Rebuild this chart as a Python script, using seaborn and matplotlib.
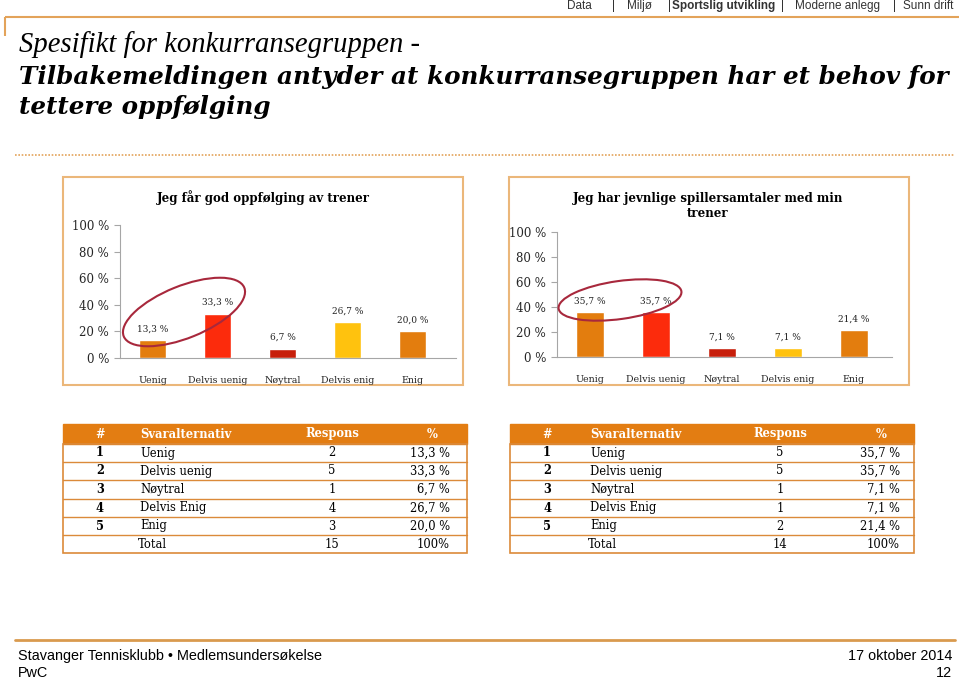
import matplotlib
matplotlib.use("Agg")
import matplotlib.pyplot as plt
import seaborn as sns
from matplotlib.patches import Rectangle, Ellipse

# ---------------- data ----------------
categories = ["Uenig", "Delvis uenig", "Nøytral", "Delvis enig", "Enig"]
table_labels = ["Uenig", "Delvis uenig", "Nøytral", "Delvis Enig", "Enig"]
values_1 = [13.3, 33.3, 6.7, 26.7, 20.0]
values_2 = [35.7, 35.7, 7.1, 7.1, 21.4]
respons_1 = [2, 5, 1, 4, 3]
respons_2 = [5, 5, 1, 1, 2]
total_1 = 15
total_2 = 14
title_1 = "Jeg får god oppfølging av trener"
title_2 = "Jeg har jevnlige spillersamtaler med min\ntrener"
y_ticks = [0, 20, 40, 60, 80, 100]
bar_colors = ["#E37D0E", "#FC2B0C", "#C71F0B", "#FFC20E", "#E37D0E"]

sns.set_theme(style="white")
plt.rcParams["font.family"] = ["DejaVu Serif"]

W, H = 959, 680
fig = plt.figure(figsize=(W / 100, H / 100), dpi=100)
fig.patch.set_facecolor("white")

# background overlay in pixel coordinates
bg = fig.add_axes([0, 0, 1, 1], zorder=0)
bg.set_xlim(0, W)
bg.set_ylim(H, 0)
bg.axis("off")

ORANGE_LINE = "#E3A35A"
BOX = "#EBB77A"
TBL = "#DB8A3A"
HEAD = "#E37D12"
SANS = ["Liberation Sans", "DejaVu Sans"]

# top navigation
nav = [("Data", 567, "normal"), ("|", 612, "normal"), ("Miljø", 627, "normal"),
       ("|", 668, "normal"), ("Sportslig utvikling", 672, "bold"), ("|", 781, "normal"),
       ("Moderne anlegg", 795, "normal"), ("|", 893, "normal"), ("Sunn drift", 903, "normal")]
for txt, x, wt in nav:
    bg.text(x, 6, txt, ha="left", va="center", fontsize=8.5, fontweight=wt,
            family=SANS, color="#333333")

bg.plot([5, 959], [17, 17], color=ORANGE_LINE, lw=1.5, solid_capstyle="butt")
bg.plot([5, 5], [17, 36], color=ORANGE_LINE, lw=1.5, solid_capstyle="butt")

bg.text(19, 45, "Spesifikt for konkurransegruppen -", ha="left", va="center",
        fontsize=20.6, style="italic", family=["Liberation Serif", "DejaVu Serif"], color="black")
bg.text(19, 77, "Tilbakemeldingen antyder at konkurransegruppen har et behov for",
        ha="left", va="center", fontsize=17.7, style="italic", fontweight="bold", color="black")
bg.text(19, 107, "tettere oppfølging", ha="left", va="center", fontsize=17.7,
        style="italic", fontweight="bold", color="black")

bg.plot([15, 955], [155, 155], color=ORANGE_LINE, lw=1.2, linestyle=(0, (1, 1)))

# chart boxes
bg.add_patch(Rectangle((63, 177), 400, 208, fill=False, ec=BOX, lw=1.5))
bg.add_patch(Rectangle((509, 177), 400, 208, fill=False, ec=BOX, lw=1.5))

# footer
bg.plot([15, 955], [640, 640], color="#D99A4E", lw=2)
bg.text(18, 656, "Stavanger Tennisklubb • Medlemsundersøkelse", ha="left", va="center",
        fontsize=10.4, family=SANS, color="black")
bg.text(18, 673, "PwC", ha="left", va="center", fontsize=10.4, family=SANS, color="black")
bg.text(952, 656, "17 oktober 2014", ha="right", va="center", fontsize=10.4, family=SANS, color="black")
bg.text(952, 673, "12", ha="right", va="center", fontsize=10.4, family=SANS, color="black")


def fmt(v):
    return f"{v:.1f}".replace(".", ",") + " %"


def draw_table(x0, x1, col_num, col_lab, col_resp, col_pct_head, col_pct, respons, values, total):
    top, head_bot = 424, 444
    rows = [444, 462, 480, 499, 517, 535, 553]
    bg.add_patch(Rectangle((x0, top), x1 - x0, head_bot - top, fc=HEAD, ec=HEAD, lw=1))
    bg.add_patch(Rectangle((x0, head_bot), x1 - x0, rows[-1] - head_bot, fill=False, ec=TBL, lw=1.2))
    for y in rows[1:-1]:
        bg.plot([x0, x1], [y, y], color=TBL, lw=1)
    hy = (top + head_bot) / 2
    kw = dict(va="center", fontsize=8.3, fontweight="bold", color="white")
    bg.text(col_num, hy, "#", ha="center", **kw)
    bg.text(col_lab, hy, "Svaralternativ", ha="left", **kw)
    bg.text(col_resp, hy, "Respons", ha="center", **kw)
    bg.text(col_pct_head, hy, "%", ha="center", **kw)
    fs = 8.3
    for i in range(5):
        yc = (rows[i] + rows[i + 1]) / 2
        bg.text(col_num, yc, str(i + 1), ha="center", va="center", fontsize=fs, fontweight="bold", color="black")
        bg.text(col_lab, yc, table_labels[i], ha="left", va="center", fontsize=fs, color="black")
        bg.text(col_resp, yc, str(respons[i]), ha="center", va="center", fontsize=fs, color="black")
        bg.text(col_pct, yc, fmt(values[i]), ha="right", va="center", fontsize=fs, color="black")
    yc = (rows[5] + rows[6]) / 2
    bg.text(col_lab - 2, yc, "Total", ha="left", va="center", fontsize=fs, color="black")
    bg.text(col_resp, yc, str(total), ha="center", va="center", fontsize=fs, color="black")
    bg.text(col_pct, yc, "100%", ha="right", va="center", fontsize=fs, color="black")


draw_table(63, 467, 100, 140, 332, 432, 450, respons_1, values_1, total_1)
draw_table(510, 914, 547, 590, 780, 881, 900, respons_2, values_2, total_2)


def px_axes(left, right, bottom0, top100):
    return fig.add_axes([left / W, (H - bottom0) / H, (right - left) / W, (bottom0 - top100) / H], zorder=1)


def draw_chart(ax, values, title, xmax):
    sns.barplot(x=categories, y=values, hue=categories, palette=bar_colors, ax=ax,
                width=0.42, legend=False, saturation=1)
    ax.set_facecolor("none")
    ax.set_ylim(0, 100)
    ax.set_xlim(-0.5, xmax)
    ax.set_yticks(y_ticks)
    ax.set_yticklabels([f"{t} %" for t in y_ticks], fontsize=8.5)
    ax.tick_params(axis="y", left=True, length=4, width=0.8, color="#A6A6A6", pad=4)
    ax.tick_params(axis="x", bottom=False, pad=7, labelsize=6.8)
    ax.set_xlabel("")
    ax.set_ylabel("")
    for s in ["top", "right"]:
        ax.spines[s].set_visible(False)
    for s in ["left", "bottom"]:
        ax.spines[s].set_color("#A6A6A6")
        ax.spines[s].set_linewidth(0.8)
    for cont, v in zip(ax.containers, values):
        ax.bar_label(cont, labels=[fmt(v)], padding=5, fontsize=6.5, color="#222222")


ax1 = px_axes(120, 456, 358, 225)
draw_chart(ax1, values_1, title_1, 4.67)
ax2 = px_axes(557, 892, 357, 232)
draw_chart(ax2, values_2, title_2, 4.58)

bg.text(263, 198, title_1, ha="center", va="center", fontsize=8.5, fontweight="bold", color="black")
bg.text(708, 206, title_2, ha="center", va="center", fontsize=8.5, fontweight="bold",
        color="black", linespacing=1.25)

# highlight ellipses
ov = fig.add_axes([0, 0, 1, 1], zorder=2)
ov.set_xlim(0, W)
ov.set_ylim(H, 0)
ov.axis("off")
ov.add_patch(Ellipse((184, 312), 130, 52, angle=-22, fill=False, ec="#A8283C", lw=1.5))
ov.add_patch(Ellipse((620, 300), 124, 38, angle=-8, fill=False, ec="#A8283C", lw=1.5))

fig.savefig("out.png", dpi=100, facecolor="white")
